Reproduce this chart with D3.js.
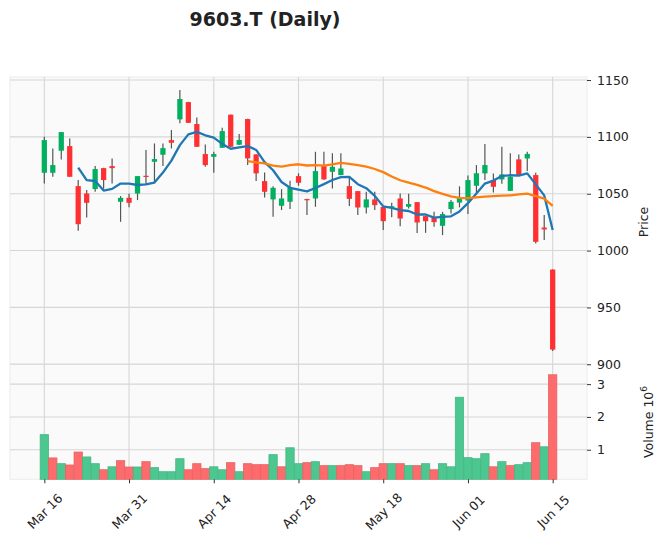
<!DOCTYPE html>
<html><head><meta charset="utf-8">
<script src="https://cdn.jsdelivr.net/npm/d3@7"></script>
<style>body{margin:0;background:#fff}svg{display:block}text{font-family:"DejaVu Sans",sans-serif;fill:#222}</style>
</head><body><svg id="c" width="660" height="545"></svg>
<script>
const dates = ["2020-03-16","2020-03-17","2020-03-18","2020-03-19","2020-03-23","2020-03-24","2020-03-25","2020-03-26","2020-03-27","2020-03-30","2020-03-31",
"2020-04-01","2020-04-02","2020-04-03","2020-04-06","2020-04-07","2020-04-08","2020-04-09","2020-04-10","2020-04-13","2020-04-14","2020-04-15","2020-04-16","2020-04-17","2020-04-20","2020-04-21","2020-04-22","2020-04-23","2020-04-24","2020-04-27","2020-04-28","2020-04-30",
"2020-05-01","2020-05-07","2020-05-08","2020-05-11","2020-05-12","2020-05-13","2020-05-14","2020-05-15","2020-05-18","2020-05-19","2020-05-20","2020-05-21","2020-05-22","2020-05-25","2020-05-26","2020-05-27","2020-05-28","2020-05-29",
"2020-06-01","2020-06-02","2020-06-03","2020-06-04","2020-06-05","2020-06-08","2020-06-09","2020-06-10","2020-06-11","2020-06-12","2020-06-15"];
const opens = [1068.4,1068.4,1087.8,1091.9,1056.7,1050.2,1054.1,1072.5,1074.3,1042.9,1046.4,
1050.2,1065.8,1078.1,1084.3,1097.2,1115.4,1130.6,1111.3,1084.9,1082.5,1090.4,1119.5,1093.1,1115.7,1084.6,1061.1,1045.0,1039.4,1042.9,1065.5,1045.3,
1045.8,1074.3,1069.3,1066.4,1056.7,1052.3,1037.9,1045.0,1038.3,1038.0,1045.8,1038.5,1042.6,1030.3,1029.1,1021.8,1036.5,1042.2,
1044.0,1057.0,1067.9,1062.0,1062.6,1052.5,1080.2,1081.0,1066.4,1020.3,983.3];
const highs = [1100.1,1089.8,1104.4,1098.6,1062.0,1053.2,1074.3,1072.8,1081.0,1047.9,1050.0,
1065.5,1088.4,1094.2,1094.2,1106.0,1141.2,1130.8,1117.1,1093.4,1086.9,1108.0,1119.7,1102.5,1116.0,1084.8,1068.7,1056.5,1054.0,1061.4,1068.0,1045.6,
1086.9,1086.9,1085.5,1085.5,1064.9,1052.5,1051.7,1051.7,1038.5,1042.0,1050.2,1050.0,1042.8,1030.5,1034.1,1034.1,1044.4,1056.5,
1066.0,1075.2,1093.7,1067.9,1091.3,1085.5,1084.6,1087.0,1068.4,1031.2,983.5];
const lows = [1059.0,1064.9,1080.2,1064.9,1017.5,1029.1,1051.7,1054.3,1059.0,1025.3,1038.0,
1044.4,1057.6,1060.0,1074.3,1089.8,1111.9,1112.2,1091.0,1073.7,1068.4,1090.2,1091.0,1092.9,1075.2,1061.1,1046.7,1029.7,1035.6,1036.5,1057.0,1031.2,
1038.5,1062.3,1054.6,1066.2,1039.1,1031.2,1032.6,1035.6,1018.0,1029.2,1021.5,1037.0,1015.5,1015.6,1020.9,1013.6,1032.6,1038.0,
1032.1,1050.0,1062.0,1051.0,1058.7,1052.3,1065.5,1070.0,1006.2,1009.2,911.7];
const closes = [1097.2,1075.2,1104.2,1064.9,1023.2,1042.0,1071.7,1062.0,1072.5,1046.4,1042.0,
1065.5,1064.9,1080.5,1090.1,1094.8,1133.3,1112.4,1091.3,1075.2,1084.9,1105.1,1091.3,1097.2,1081.1,1067.9,1051.7,1055.2,1045.8,1055.5,1059.6,1044.5,
1069.9,1062.6,1073.7,1072.2,1045.5,1037.9,1045.0,1040.0,1025.9,1039.0,1028.2,1040.9,1024.7,1025.8,1025.0,1032.1,1042.9,1046.5,
1062.0,1068.0,1075.2,1056.1,1067.0,1064.9,1066.4,1085.0,1007.7,1018.6,912.9];
const volumes = [1460000,750000,575000,535000,930000,780000,575000,390000,480000,667000,474000,
474000,636000,454000,330000,330000,727000,390000,575000,423000,480000,390000,606000,330000,575000,545000,545000,850000,480000,1060000,575000,606000,
636000,515000,515000,515000,545000,515000,330000,454000,575000,575000,575000,515000,515000,575000,390000,575000,480000,2600000,
758000,727000,880000,480000,636000,515000,545000,606000,1215000,1090000,3285000];
const mavPeriods = [5, 25];
const mavColors = ["#1f77b4", "#ff7f0e"];
const xTickLabels = ["Mar 16","Mar 31","Apr 14","Apr 28","May 18","Jun 01","Jun 15"];
const xTickDates = ["2020-03-16","2020-03-31","2020-04-14","2020-04-28","2020-05-18","2020-06-01","2020-06-15"];
const priceTicks = [900,950,1000,1050,1100,1150];
const volTicks = [1000000,2000000,3000000];

const svg = d3.select("#c");
const L = 10, R = 587, PT = 77, PB = 364, VB = 479.3;
const n = closes.length;
const x = d3.scaleLinear().domain([-4.05, n - 1 + 4.05]).range([L, R]);
const step = x(1) - x(0);
const minL = d3.min(lows), maxH = d3.max(highs), rng = maxH - minL;
const y = d3.scaleLinear().domain([minL - 0.05*rng, maxH + 0.05*rng]).range([PB, PT]);
const yv = d3.scaleLinear().domain([0.3*d3.min(volumes), 1.1*d3.max(volumes)]).range([VB, PB]);

const UP = "#00b060", DN = "#fe3032", VUP = "#4dc790", VDN = "#fd6b6c", GRID = "#d6d6d6";

// panel backgrounds
svg.append("rect").attr("x", L).attr("y", PT).attr("width", R-L).attr("height", PB-PT).attr("fill","#fafafa").attr("stroke","#ececec");
svg.append("rect").attr("x", L).attr("y", PB).attr("width", R-L).attr("height", VB-PB).attr("fill","#fafafa").attr("stroke","#ececec");

const tickIdx = xTickDates.map(d => dates.indexOf(d));
// grid
const g = svg.append("g");
g.selectAll(".vg").data(tickIdx).join("line").attr("x1", d=>x(d)).attr("x2", d=>x(d)).attr("y1", PT).attr("y2", VB).attr("stroke", GRID).attr("stroke-width",1.1);
g.selectAll(".hg").data(priceTicks).join("line").attr("x1", L).attr("x2", R).attr("y1", d=>y(d)).attr("y2", d=>y(d)).attr("stroke", GRID).attr("stroke-width",1.1);
g.selectAll(".vhg").data(volTicks).join("line").attr("x1", L).attr("x2", R).attr("y1", d=>yv(d)).attr("y2", d=>yv(d)).attr("stroke", GRID).attr("stroke-width",1.1);

// volume bars
const vcol = i => (i === 0 ? (closes[0] >= opens[0]) : (closes[i] >= closes[i-1])) ? VUP : VDN;
svg.append("g").selectAll("rect").data(volumes).join("rect")
  .attr("x", (d,i)=>x(i)-step*0.49).attr("width", step*0.98)
  .attr("y", d=>yv(d)).attr("height", d=>VB - yv(d))
  .attr("fill", (d,i)=>vcol(i)).attr("stroke", (d,i)=>d3.color(vcol(i)).darker(0.25)).attr("stroke-width",0.8);

// candles
const cg = svg.append("g");
const idx = d3.range(n);
cg.selectAll("line").data(idx).join("line")
  .attr("x1", i=>x(i)).attr("x2", i=>x(i)).attr("y1", i=>y(highs[i])).attr("y2", i=>y(lows[i]))
  .attr("stroke", "#555").attr("stroke-width", 1.2);
const bw = step*0.62;
cg.selectAll("rect").data(idx).join("rect")
  .attr("x", i=>x(i)-bw/2).attr("width", bw)
  .attr("y", i=>y(Math.max(opens[i],closes[i])))
  .attr("height", i=>Math.max(1.2, Math.abs(y(opens[i])-y(closes[i]))))
  .attr("fill", i=>closes[i]>=opens[i]?UP:DN);

// moving averages
mavPeriods.forEach((p, k) => {
  const pts = idx.filter(i => i >= p-1).map(i => [i, d3.mean(closes.slice(i-p+1, i+1))]);
  svg.append("path").datum(pts)
    .attr("d", d3.line().x(d=>x(d[0])).y(d=>y(d[1])))
    .attr("fill","none").attr("stroke", mavColors[k]).attr("stroke-width", 2.3).attr("stroke-linejoin","round");
});

// right axes
const ax = svg.append("g").attr("transform", `translate(${R},0)`)
  .call(d3.axisRight(y).tickValues(priceTicks).tickSize(4).tickPadding(6).tickFormat(d3.format("d")));
const av = svg.append("g").attr("transform", `translate(${R},0)`)
  .call(d3.axisRight(yv).tickValues(volTicks).tickSize(4).tickPadding(6).tickFormat(d => d/1e6));
[ax, av].forEach(a => { a.select(".domain").remove(); a.selectAll("text").attr("font-size", 12.5).attr("fill","#222").style("font-family","DejaVu Sans"); a.selectAll("line").attr("stroke","#333"); });

// bottom axis
const xb = svg.append("g").attr("transform", `translate(0,${VB})`)
  .call(d3.axisBottom(x).tickValues(tickIdx).tickSize(4).tickFormat((d,i)=>xTickLabels[i]));
xb.select(".domain").remove();
xb.selectAll("line").attr("stroke","#333");
xb.selectAll("text").attr("font-size",12.5).attr("fill","#222").style("font-family","DejaVu Sans")
  .attr("text-anchor","middle").attr("dy",null).attr("y",null)
  .attr("transform","translate(0,32) rotate(-45)").attr("dominant-baseline","central");

// labels
svg.append("text").attr("x",265).attr("y",26).attr("text-anchor","middle").attr("font-size",19).attr("font-weight","bold").attr("fill","#000").text("9603.T (Daily)");
svg.append("text").attr("transform","translate(648,222) rotate(-90)").attr("text-anchor","middle").attr("font-size",12.5).text("Price");
const vl = svg.append("text").attr("transform","translate(653,422) rotate(-90)").attr("text-anchor","middle").attr("font-size",12.5);
vl.append("tspan").text("Volume  10");
vl.append("tspan").attr("font-size",9).attr("dy",-6).text("6");
</script></body></html>
